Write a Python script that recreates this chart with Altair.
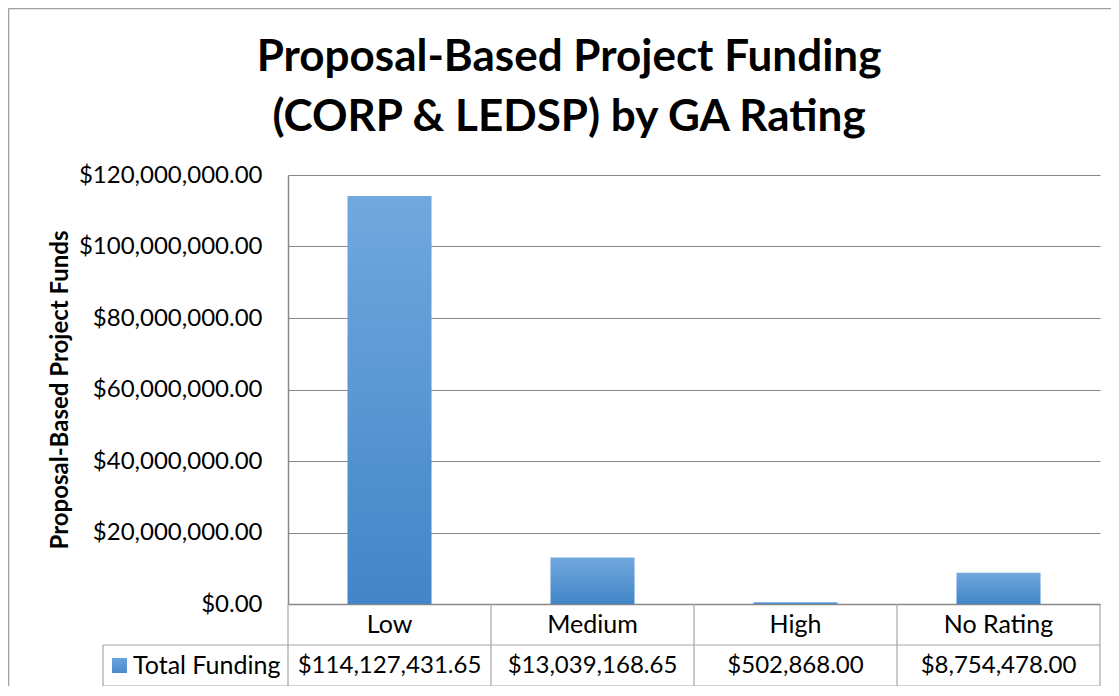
import altair as alt
import pandas as pd

categories = ["Low", "Medium", "High", "No Rating"]
funding = [114127431.65, 13039168.65, 502868.00, 8754478.00]
y_ticks = [0, 20000000, 40000000, 60000000, 80000000, 100000000, 120000000]
series_name = ["Total Funding"]
title_lines = ["Proposal-Based Project Funding", "(CORP & LEDSP) by GA Rating"]
y_title = "Proposal-Based Project Funds"

W, H = 812, 429
ROW = 41
FONT = "Lato"
GRID = "#878787"
TABLE = "#a6a6a6"

df = pd.DataFrame({"cat": categories, "funding": funding})
edges = pd.DataFrame({"edge": list(range(len(categories) + 1))})
ser = pd.DataFrame({"series": series_name})
ttl = pd.DataFrame({"title": ["\n".join(title_lines)]})

band = alt.Scale(domain=categories, paddingInner=0.586, paddingOuter=0.293)


def xcat(axis=None):
    if axis is None:
        return alt.X("cat:N", sort=categories, scale=band, axis=None)
    return alt.X("cat:N", sort=categories, scale=band, axis=axis)


bars = alt.Chart(df).mark_bar(
    color=alt.Gradient(
        gradient="linear",
        stops=[alt.GradientStop(offset=0, color="#71a8de"),
               alt.GradientStop(offset=1, color="#4285c8")],
        x1=0, x2=0, y1=0, y2=1,
    )
).encode(
    x=xcat(alt.Axis(labels=False, ticks=False, title=None, domain=True,
                    domainColor=GRID, domainWidth=1.5, grid=False)),
    y=alt.Y("funding:Q",
            scale=alt.Scale(domain=[0, 120000000], nice=False, zero=True),
            axis=alt.Axis(values=y_ticks, format="$,.2f", title=y_title,
                          labelFont=FONT, labelFontSize=24, labelColor="black",
                          labelPadding=26, labelLimit=400, ticks=False, tickSize=0,
                          domainColor=GRID, domainWidth=1.5,
                          grid=True, gridColor=GRID, gridWidth=1.2,
                          titleFont=FONT, titleFontSize=24, titleFontWeight="bold",
                          titleColor="black", titleLimit=500,
                          titleX=-228, titleY=H / 2, titleAngle=270,
                          titleBaseline="middle", titleAlign="center")),
)

title_text = alt.Chart(ttl).mark_text(font=FONT, fontSize=44, fontWeight="bold",
                                      color="black", align="center",
                                      baseline="alphabetic", lineBreak="\n",
                                      lineHeight=60).encode(
    x=alt.value(569 - 288), y=alt.value(-104), text="title:N")

cat_text = alt.Chart(df).mark_text(font=FONT, fontSize=25, color="black",
                                   baseline="middle").encode(
    x=xcat(), y=alt.value(H + ROW / 2), text="cat:N")

val_text = alt.Chart(df).mark_text(font=FONT, fontSize=24, color="black",
                                   baseline="middle").encode(
    x=xcat(), y=alt.value(H + ROW * 1.5), text=alt.Text("funding:Q", format="$,.2f"))

vlines = alt.Chart(edges).mark_rule(color=TABLE, strokeWidth=1.2).encode(
    x=alt.X("edge:Q", scale=alt.Scale(domain=[0, len(categories)], nice=False, zero=False),
            axis=None),
    y=alt.value(H), y2=alt.value(H + 2 * ROW))

hline1 = alt.Chart(ser).mark_rule(color=TABLE, strokeWidth=1.2).encode(
    x=alt.value(-185), x2=alt.value(W), y=alt.value(H + ROW))
hline2 = alt.Chart(ser).mark_rule(color=TABLE, strokeWidth=1.2).encode(
    x=alt.value(-185), x2=alt.value(W), y=alt.value(H + 2 * ROW))
lline = alt.Chart(ser).mark_rule(color=TABLE, strokeWidth=1.2).encode(
    x=alt.value(-185), y=alt.value(H + ROW), y2=alt.value(H + 2 * ROW))

key = alt.Chart(ser).mark_rect(
    color=alt.Gradient(
        gradient="linear",
        stops=[alt.GradientStop(offset=0, color="#6aa3dc"),
               alt.GradientStop(offset=1, color="#4a8bcc")],
        x1=0, x2=0, y1=0, y2=1,
    )
).encode(x=alt.value(-176), x2=alt.value(-161),
         y=alt.value(H + 54), y2=alt.value(H + 69))

key_text = alt.Chart(ser).mark_text(font=FONT, fontSize=25, color="black",
                                    align="left", baseline="middle").encode(
    x=alt.value(-155), y=alt.value(H + ROW * 1.5), text="series:N")

border_left = alt.Chart(ser).mark_rule(color="#a0a0a0", strokeWidth=1.5).encode(
    x=alt.value(-279.5), y=alt.value(-166.5), y2=alt.value(H + 90))
border_top = alt.Chart(ser).mark_rule(color="#a0a0a0", strokeWidth=1.5).encode(
    x=alt.value(-279.5), x2=alt.value(W + 20), y=alt.value(-166.5))

chart = alt.layer(
    bars, title_text, cat_text, val_text, vlines, hline1, hline2, lline, key, key_text,
    border_left, border_top,
).resolve_scale(x="independent").properties(
    width=W, height=H,
    autosize=alt.AutoSizeParams(type="none"),
    padding={"left": 280, "top": 167, "right": 11, "bottom": 82},
    background="white",
).configure_view(stroke=None)

chart.save("out.html", embed_options={"renderer": "svg", "actions": False})
